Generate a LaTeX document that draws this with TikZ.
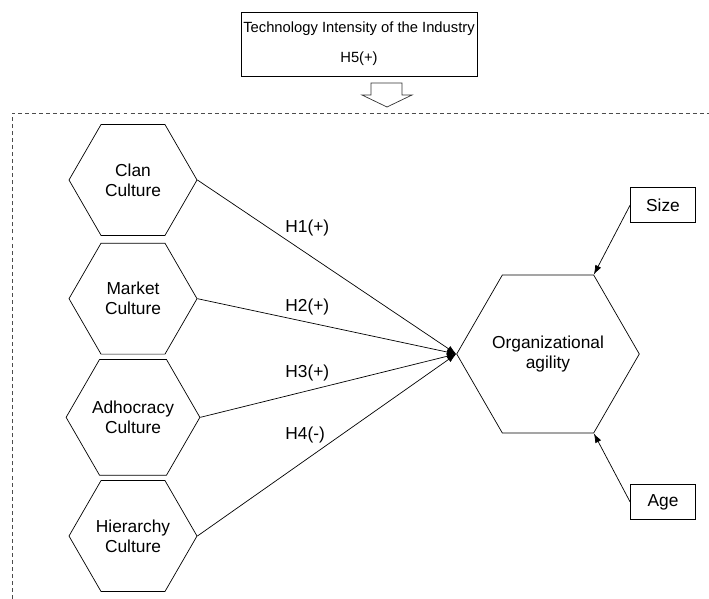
\documentclass[tikz,border=0pt]{standalone}
\usepackage{fontspec}
\setmainfont{Liberation Sans}
\usetikzlibrary{arrows.meta,shapes.geometric,positioning}
\tikzset{%
  >={Latex[width=5.5pt,length=8pt]},
  % Specifications for style of nodes:
        base/.style = {draw=black, line width=0.6pt, text centered,
                       align=center, font=\fontsize{14.8}{17}\selectfont},
     culture/.style = {base, regular polygon, regular polygon sides=6,
                       minimum size=3.84cm, inner sep=0pt},
     outcome/.style = {culture, minimum size=4.98cm},
     control/.style = {base, rectangle, minimum width=1.95cm,
                       minimum height=1.06cm, inner sep=0pt},
    industry/.style = {base, rectangle, minimum width=7.08cm,
                       minimum height=1.92cm, inner sep=0pt,
                       font=\fontsize{12.6}{25.6}\selectfont},
  hypothesis/.style = {anchor=west, inner sep=0pt,
                       font=\fontsize{14.8}{17}\selectfont},
}

\begin{document}
\begin{tikzpicture}[x=0.03cm, y=-0.03cm, node distance=3.56cm,
    line width=0.6pt]
  \useasboundingbox (0,0) rectangle (709,599);
  % Specification of nodes (position, etc.)
  \node (industry) [industry] at (359,44) {Technology Intensity of the Industry\\H5(+)};
  \node (clan) [culture] at (133,180) {Clan\\Culture};
  \node (market) [culture, below of=clan] {Market\\Culture};
  \node (adhocracy) [culture, below of=market] {Adhocracy\\Culture};
  \node (hierarchy) [culture, below of=adhocracy] {Hierarchy\\Culture};
  \node (agility) [outcome] at (548,354) {Organizational\\agility};
  \node (size) [control] at (663,205) {Size};
  \node (age) [control] at (663,502) {Age};

  \node (h1) [hypothesis] at (285,228) {H1(+)};
  \node (h2) [hypothesis] at (285,307) {H2(+)};
  \node (h3) [hypothesis] at (285,373) {H3(+)};
  \node (h4) [hypothesis] at (285,435) {H4(-)};

  % moderator frame and block arrow
  \draw[black!70, dash pattern=on 3.4pt off 2.6pt] (12,599) -- (12,113) -- (709,113);
  \draw[black!80] (371,83) -- (402,83) -- (402,95) -- (412,95) -- (387,107)
        -- (362,95) -- (371,95) -- cycle;

  % Specification of lines between nodes specified above
  \draw[->] (clan.east) -- (agility.west);
  \draw[->] (market.east) -- (agility.west);
  \draw[->] (adhocracy.east) -- (agility.west);
  \draw[->] (hierarchy.east) -- (agility.west);
  \draw[->] (size.west) -- (agility.60);
  \draw[->] (age.west) -- (agility.-60);
\end{tikzpicture}
\end{document}
